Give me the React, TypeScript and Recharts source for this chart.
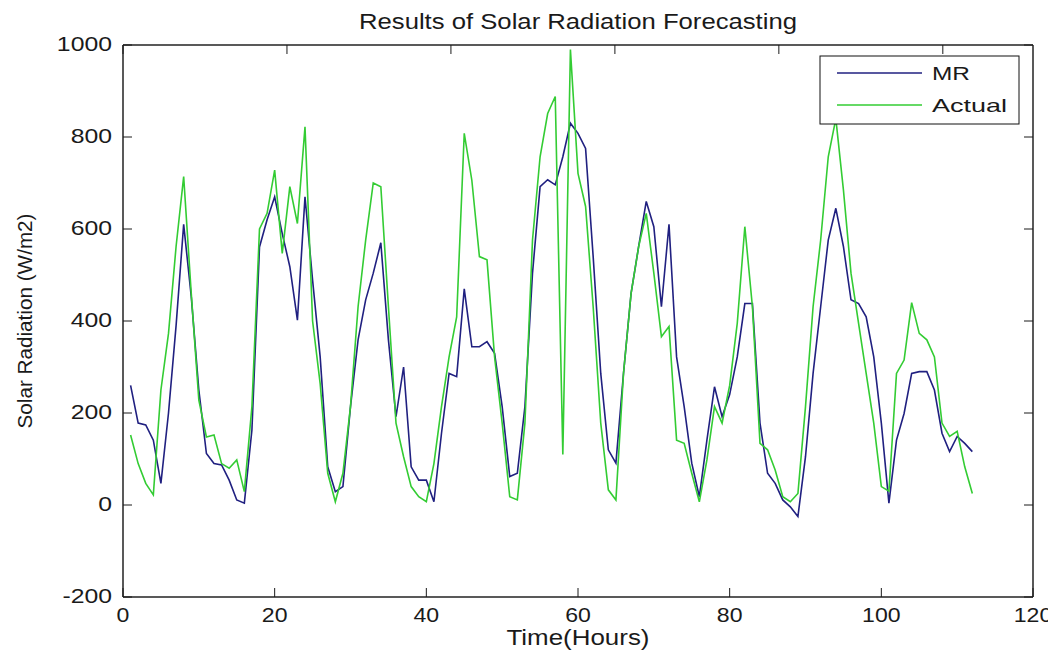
import React from 'react';
import { LineChart, Line, XAxis, YAxis } from 'recharts';

// hourly samples
const hours = [
  1, 2, 3, 4, 5, 6, 7, 8, 9, 10, 11, 12, 13, 14, 15, 16, 17, 18, 19, 20,
  21, 22, 23, 24, 25, 26, 27, 28, 29, 30, 31, 32, 33, 34, 35, 36, 37, 38, 39, 40,
  41, 42, 43, 44, 45, 46, 47, 48, 49, 50, 51, 52, 53, 54, 55, 56, 57, 58, 59, 60,
  61, 62, 63, 64, 65, 66, 67, 68, 69, 70, 71, 72, 73, 74, 75, 76, 77, 78, 79, 80,
  81, 82, 83, 84, 85, 86, 87, 88, 89, 90, 91, 92, 93, 94, 95, 96, 97, 98, 99, 100,
  101, 102, 103, 104, 105, 106, 107, 108, 109, 110, 111, 112,
];

const mrValues = [
  260, 178, 174, 141, 47, 200, 390, 610, 453, 250, 112, 90, 87, 54, 11, 4, 163, 561, 620, 670,
  590, 518, 402, 670, 489, 322, 83, 29, 40, 214, 359, 446, 504, 570, 359, 192, 300, 83, 54, 54,
  7, 156, 286, 279, 470, 344, 344, 355, 330, 214, 62, 69, 214, 504, 692, 707, 696, 757, 830, 808,
  775, 540, 286, 120, 91, 286, 460, 562, 660, 605, 431, 610, 322, 214, 91, 18, 141, 257, 192, 240,
  322, 438, 438, 178, 69, 47, 11, -4, -25, 105, 286, 431, 576, 645, 562, 446, 438, 409, 322, 178,
  4, 141, 199, 286, 290, 290, 250, 156, 116, 149, 134, 116,
];

const actualValues = [
  152, 90, 47, 22, 250, 373, 562, 714, 460, 228, 148, 152, 90, 80, 98, 29, 214, 600, 634, 728,
  547, 692, 612, 822, 400, 264, 69, 7, 69, 214, 431, 576, 700, 692, 431, 178, 105, 40, 18, 7,
  90, 214, 322, 409, 808, 706, 540, 533, 322, 178, 18, 11, 178, 576, 757, 851, 888, 110, 990, 721,
  649, 431, 178, 33, 11, 286, 460, 562, 634, 504, 366, 388, 141, 134, 69, 7, 98, 214, 178, 260,
  395, 605, 431, 134, 120, 76, 18, 7, 25, 214, 431, 576, 757, 840, 685, 504, 395, 286, 178, 40,
  30, 286, 315, 440, 373, 359, 322, 178, 149, 160, 83, 25,
];

const xTicks = [0, 20, 40, 60, 80, 100, 120];
const yTicks = [-200, 0, 200, 400, 600, 800, 1000];

const chartData = hours.map((h, i) => ({ hour: h, mr: mrValues[i], actual: actualValues[i] }));

const FONT = "'Liberation Sans', Arial, Helvetica, sans-serif";
const INK = '#1a1a1a';
const MR_COLOR = '#202080';
const ACTUAL_COLOR = '#33cc33';

const BottomTick = ({ x, y, payload }: any) => (
  <g>
    <line x1={x} y1={y} x2={x} y2={y - 9} stroke={INK} strokeWidth={1} />
    <text
      transform={`translate(${x},${y + 25}) scale(1.1,1)`}
      textAnchor="middle"
      fontSize={21}
      fontFamily={FONT}
      fill={INK}
    >
      {payload.value}
    </text>
  </g>
);

const LeftTick = ({ x, y, payload }: any) => (
  <g>
    <line x1={x} y1={y} x2={x + 9} y2={y} stroke={INK} strokeWidth={1} />
    <text
      transform={`translate(${x - 11},${y + 6}) scale(1.24,1)`}
      textAnchor="end"
      fontSize={20}
      fontFamily={FONT}
      fill={INK}
    >
      {payload.value}
    </text>
  </g>
);

const TopTick = ({ x, y }: any) => (
  <line x1={x} y1={y} x2={x} y2={y + 9} stroke={INK} strokeWidth={1} />
);

const RightTick = ({ x, y }: any) => (
  <line x1={x} y1={y} x2={x - 9} y2={y} stroke={INK} strokeWidth={1} />
);

const axisLine = { stroke: '#222', strokeWidth: 1.5 };

export default function App() {
  return (
    <div style={{ position: 'relative', width: 1048, height: 642, background: '#fff' }}>
      <LineChart
        width={1048}
        height={642}
        data={chartData}
        margin={{ top: 36, right: 22, bottom: 0, left: 0 }}
      >
        <XAxis
          dataKey="hour"
          type="number"
          domain={[0, 120]}
          ticks={xTicks}
          height={53}
          tickSize={0}
          tickMargin={0}
          tickLine={false}
          axisLine={axisLine}
          tick={<BottomTick />}
          interval={0}
        />
        <XAxis
          xAxisId="top"
          orientation="top"
          type="number"
          domain={[0, 120]}
          allowDataOverflow
          ticks={xTicks}
          height={1}
          tickSize={0}
          tickMargin={0}
          tickLine={false}
          axisLine={axisLine}
          tick={<TopTick />}
          interval={0}
        />
        <YAxis
          type="number"
          domain={[-200, 1000]}
          ticks={yTicks}
          width={115}
          tickSize={0}
          tickMargin={0}
          tickLine={false}
          axisLine={axisLine}
          tick={<LeftTick />}
          interval={0}
        />
        <YAxis
          yAxisId="right"
          orientation="right"
          type="number"
          domain={[-200, 1000]}
          allowDataOverflow
          ticks={yTicks}
          width={1}
          tickSize={0}
          tickMargin={0}
          tickLine={false}
          axisLine={axisLine}
          tick={<RightTick />}
          interval={0}
        />
        <Line
          dataKey="mr"
          name="MR"
          stroke={MR_COLOR}
          strokeWidth={1.6}
          dot={false}
          type="linear"
          isAnimationActive={false}
        />
        <Line
          dataKey="actual"
          name="Actual"
          stroke={ACTUAL_COLOR}
          strokeWidth={1.6}
          dot={false}
          type="linear"
          isAnimationActive={false}
        />
      </LineChart>

      <svg
        width={1048}
        height={642}
        style={{ position: 'absolute', left: 0, top: 0, pointerEvents: 'none' }}
      >
        <text
          x={570}
          y={21}
          textAnchor="middle"
          fontSize={22}
          fontFamily={FONT}
          fill={INK}
          textLength={438}
          lengthAdjust="spacingAndGlyphs"
        >
          Results of Solar Radiation Forecasting
        </text>
        <text
          x={570}
          y={637}
          textAnchor="middle"
          fontSize={22}
          fontFamily={FONT}
          fill={INK}
          textLength={143}
          lengthAdjust="spacingAndGlyphs"
        >
          Time(Hours)
        </text>
        <text
          transform="translate(24,313) rotate(-90)"
          textAnchor="middle"
          fontSize={20}
          fontFamily={FONT}
          fill={INK}
          textLength={215}
          lengthAdjust="spacingAndGlyphs"
        >
          Solar Radiation (W/m2)
        </text>

        {/* legend */}
        <rect x={812} y={48} width={199} height={68} fill="#fff" stroke="#111" strokeWidth={1} />
        <line x1={829} y1={65} x2={914} y2={65} stroke={MR_COLOR} strokeWidth={1.6} />
        <text
          x={924}
          y={72}
          fontSize={19}
          fontFamily={FONT}
          fill={INK}
          textLength={38}
          lengthAdjust="spacingAndGlyphs"
        >
          MR
        </text>
        <line x1={829} y1={97} x2={914} y2={97} stroke={ACTUAL_COLOR} strokeWidth={1.6} />
        <text
          x={924}
          y={104}
          fontSize={19}
          fontFamily={FONT}
          fill={INK}
          textLength={75}
          lengthAdjust="spacingAndGlyphs"
        >
          Actual
        </text>
      </svg>
    </div>
  );
}
